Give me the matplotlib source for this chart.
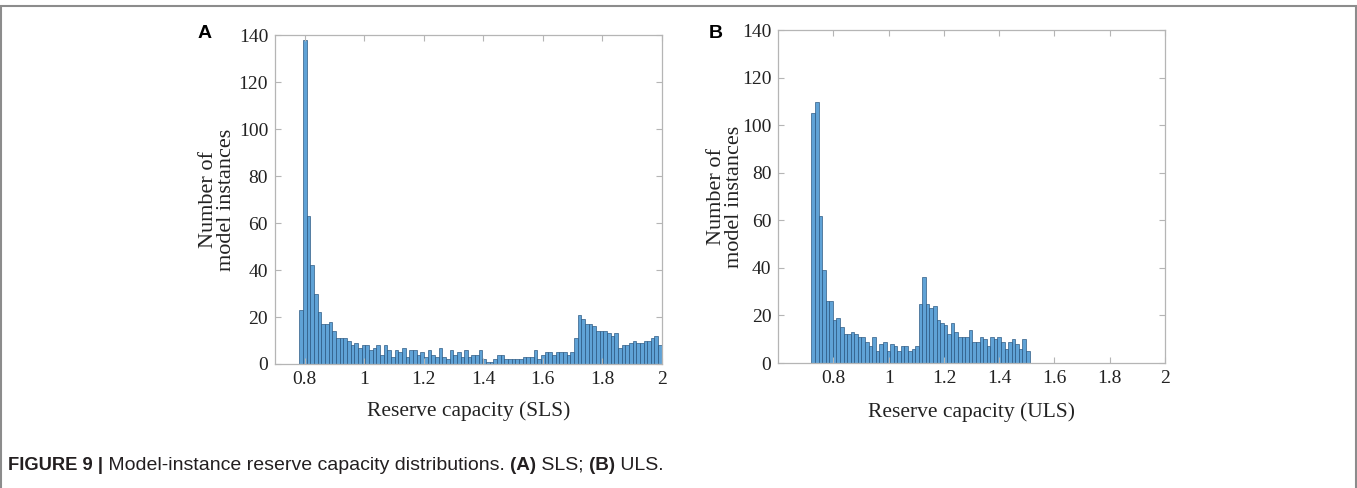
import matplotlib
matplotlib.use('Agg')
import matplotlib.pyplot as plt
from matplotlib.patches import Rectangle
import numpy as np

# bar heights (left: SLS, right: ULS)
sls_counts = [23, 138, 63, 42, 30, 22, 17, 17, 18, 14,
              11, 11, 11, 10, 8, 9, 7, 8, 8, 6,
              7, 8, 4, 8, 6, 3, 6, 5, 7, 3,
              6, 6, 4, 5, 3, 6, 4, 3, 7, 3,
              2, 6, 4, 5, 3, 6, 3, 4, 4, 6,
              2, 1, 1, 2, 4, 4, 2, 2, 2, 2,
              2, 3, 3, 3, 6, 2, 4, 5, 5, 4,
              5, 5, 5, 4, 5, 11, 21, 19, 17, 17,
              16, 14, 14, 14, 13, 12, 13, 7, 8, 8,
              9, 10, 9, 9, 10, 10, 11, 12, 8]
uls_counts = [105, 110, 62, 39, 26, 26, 18, 19, 15, 12,
              12, 13, 12, 11, 11, 9, 7, 11, 5, 8,
              9, 5, 8, 7, 5, 7, 7, 5, 6, 7,
              25, 36, 25, 23, 24, 18, 17, 16, 12, 17,
              13, 11, 11, 11, 14, 9, 9, 11, 10, 7,
              11, 10, 11, 9, 6, 9, 10, 8, 6, 10, 5]
sls_range = (0.782, 2.0)
uls_range = (0.72, 1.51)

x_ticks = [0.8, 1.0, 1.2, 1.4, 1.6, 1.8, 2.0]
x_tick_labels = ['0.8', '1', '1.2', '1.4', '1.6', '1.8', '2']
y_ticks = [0, 20, 40, 60, 80, 100, 120, 140]

serif = ['Liberation Serif', 'DejaVu Serif']
face = '#5fa2d6'
edge = '#23507a'
spine = '#b5b5b5'

fig = plt.figure(figsize=(13.57, 4.88), dpi=100)


def panel(rect, counts, rng, xlim, xlabel, ylab_x, xlab_y):
    ax = fig.add_axes(rect)
    edges = np.linspace(rng[0], rng[1], len(counts) + 1)
    ax.bar(edges[:-1], counts, width=np.diff(edges), align='edge',
           color=face, edgecolor=edge, linewidth=0.45)
    ax.set_xlim(xlim)
    ax.set_ylim(0, 140)
    ax.set_xticks(x_ticks)
    ax.set_xticklabels(x_tick_labels, family=serif, fontsize=14, color='#222222')
    ax.set_yticks(y_ticks)
    ax.set_yticklabels([str(v) for v in y_ticks], family=serif, fontsize=14, color='#222222')
    ax.tick_params(direction='in', length=4, width=0.8, color=spine,
                   top=True, right=True, pad=5)
    for s in ax.spines.values():
        s.set_color(spine)
        s.set_linewidth(0.9)
    ax.set_xlabel(xlabel, family=serif, fontsize=15.5, color='#222222')
    ax.xaxis.set_label_coords(0.5, xlab_y)
    ax.set_ylabel('Number of\nmodel instances', family=serif, fontsize=16,
                  color='#222222', linespacing=0.95)
    ax.yaxis.set_label_coords(ylab_x, 0.5)
    return ax


panel([0.2027, 0.2541, 0.285, 0.674], sls_counts, sls_range, (0.7, 2.0),
      'Reserve capacity (SLS)', -0.1, -0.113)
panel([0.5735, 0.2561, 0.285, 0.682], uls_counts, uls_range, (0.6, 2.0),
      'Reserve capacity (ULS)', -0.088, -0.118)

for letter, px in [('A', 205), ('B', 716)]:
    fig.text(px / 1357, 1 - 33 / 488, letter, fontsize=14, fontweight='bold',
             family=['Liberation Sans', 'DejaVu Sans'], ha='center', va='center')

# caption, pieces drawn left to right
caption = [('FIGURE 9 |', 'bold', 13.2), (' Model-instance reserve capacity distributions. ', 'normal', 14),
           ('(A)', 'bold', 13.6), (' SLS; ', 'normal', 14), ('(B)', 'bold', 13.6), (' ULS.', 'normal', 14)]
renderer = fig.canvas.get_renderer()
x = 8 / 1357
for txt, w, size in caption:
    t = fig.text(x, 0.037, txt, fontsize=size, fontweight=w, va='baseline', ha='left',
                 family=['Liberation Sans Narrow', 'Liberation Sans'], color='#231f20')
    bb = t.get_window_extent(renderer)
    x += bb.width / fig.bbox.width

# grey frame around the figure
fig.patches.append(Rectangle((1 / 1357, -0.02), 1354.5 / 1357, 1.02 - 6 / 488,
                             transform=fig.transFigure, fill=False,
                             edgecolor='#8c8c8c', linewidth=1.5))

fig.savefig('out.png', dpi=100)
